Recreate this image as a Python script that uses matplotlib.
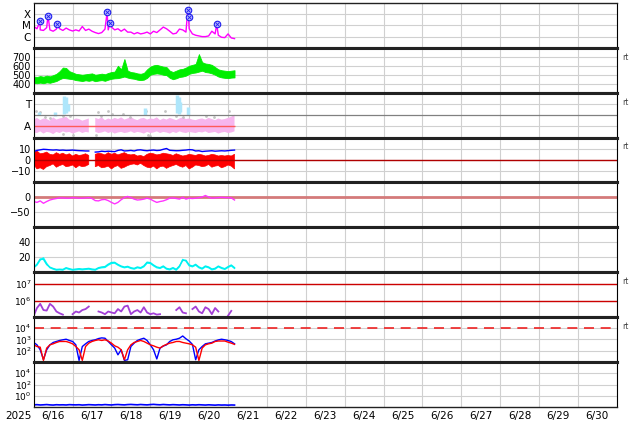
import numpy as np
import matplotlib
matplotlib.use("Agg")
import matplotlib.pyplot as plt
import matplotlib.dates as mdates
from matplotlib.ticker import FuncFormatter, NullLocator

nan = np.nan
T0 = np.datetime64("2025-06-16T00:00")
T_END = np.datetime64("2025-07-01T00:00")

# 2-hourly samples, hours since 6/16 00UT
hours = list(range(0, 125, 2))

# x-ray flux, log10 W/m2 (background) + flare peaks
xray_log = [-5.09, -5.30, -5.40, -5.45, -5.20, -5.40, -5.52, -5.33, -5.30, -5.45,
            -5.24, -5.40, -5.50, -5.40, -5.50, -5.10, -5.45, -5.33, -5.52, -5.64,
            -5.73, -5.64, -5.33, -5.40, -5.15, -5.40, -5.30, -5.52, -5.33, -5.60,
            -5.60, -5.76, -5.64, -5.76, -5.70, -5.60, -5.76, -5.52, -5.64, -5.40,
            -5.15, -5.30, -5.52, -5.76, -5.70, -5.33, -5.40, -5.60, -5.30, -5.76,
            -5.88, -5.94, -6.00, -6.00, -5.94, -5.52, -5.76, -5.88, -6.06, -6.09,
            -5.76, -6.12, -6.18]
flare_h = [3.9, 8.8, 14.5, 45.3, 47.1, 95.1, 95.6, 113.0]
flare_log = [-4.64, -4.12, -4.85, -3.85, -4.75, -3.64, -4.27, -4.91]

# solar wind speed km/s (envelope)
vsw_hi = [480, 475, 485, 478, 490, 482, 495, 510, 540, 580,
          575, 540, 525, 510, 505, 500, 505, 510, 515, 500,
          505, 512, 505, 520, 530, 535, 600, 560, 675, 545,
          530, 525, 515, 510, 520, 560, 590, 605, 610, 600,
          590, 585, 545, 530, 545, 560, 565, 580, 600, 610,
          620, 730, 640, 625, 620, 610, 585, 560, 550, 545,
          540, 545, 550]
vsw_lo = [410, 405, 412, 405, 415, 410, 420, 430, 450, 465,
          460, 455, 450, 440, 435, 430, 438, 432, 440, 428,
          435, 440, 432, 445, 455, 460, 462, 470, 480, 468,
          460, 455, 445, 440, 445, 465, 500, 510, 515, 510,
          500, 495, 465, 450, 460, 475, 480, 490, 510, 520,
          525, 535, 545, 530, 525, 515, 500, 480, 470, 465,
          462, 468, 470]

# IMF sector (A=1, T=3)
sector_lo = [0.45, 0.40, 0.55, 0.35, 0.50, 0.45, 0.30, 0.50, 0.40, 0.55,
             0.45, 0.50, 0.35, 0.45, 0.55, 0.40, 0.50, 0.45, nan, 0.50,
             0.40, 0.45, 0.55, 0.40, 0.50, 0.35, 0.45, 0.50, 0.40, 0.45,
             0.55, 0.40, 0.50, 0.45, 0.35, 0.50, 0.40, 0.45, 0.55, 0.40,
             0.50, 0.45, 0.35, 0.50, 0.40, 0.55, 0.45, 0.40, 0.50, 0.45,
             0.40, 0.50, 0.45, 0.55, 0.40, 0.45, 0.50, 0.35, 0.45, 0.50,
             0.40, 0.45, 0.55]
sector_hi = [1.60, 1.75, 1.55, 1.70, 1.65, 1.50, 1.80, 1.60, 1.70, 1.75,
             1.85, 1.60, 1.55, 1.70, 1.65, 1.50, 1.60, 1.70, nan, 1.75,
             1.65, 1.80, 1.55, 1.70, 1.60, 1.75, 1.65, 1.80, 1.60, 1.70,
             1.85, 1.65, 1.55, 1.70, 1.75, 1.60, 1.70, 1.65, 1.80, 1.55,
             1.70, 1.60, 1.75, 1.65, 1.55, 1.70, 1.80, 1.65, 1.70, 1.60,
             1.55, 1.65, 1.70, 1.60, 1.75, 1.65, 1.55, 1.70, 1.60, 1.65,
             1.75, 1.85, 2.05]
toward_h = [3.5, 13.0, 19.0, 20.0, 21.0, 68.5, 88.5, 89.5, 90.5, 95.0]
toward_lo = [2.0, 1.9, 2.1, 2.2, 2.4, 2.0, 2.2, 2.1, 2.3, 2.0]
toward_hi = [2.3, 2.3, 3.7, 3.6, 3.0, 2.6, 3.8, 3.6, 3.2, 2.7]
gray_h = [1.4, 3.9, 6.9, 10.0, 17.8, 18.2, 22.3, 24.4, 38.7, 39.8, 41.8, 45.9,
          48.6, 55.2, 59.3, 69.1, 70.5, 71.6, 80.8, 88.0, 92.1, 106.4, 111.6, 120.8]
gray_v = [2.4, 2.25, 1.87, 1.75, 1.96, 0.27, 1.96, 0.18, 0.18, 2.25, 1.96, 2.34,
          2.1, 2.1, 1.87, 2.4, 0.18, 0.1, 2.4, 1.96, 1.8, 1.96, 1.8, 2.4]

# IMF Bt / Bz nT
bt = [7.5, 8.5, 9.0, 9.5, 9.3, 9.0, 8.8, 9.0, 8.6, 8.8,
      8.5, 8.6, 8.8, 8.5, 8.3, 8.2, 8.0, 8.0, nan, 7.0,
      7.2, 7.8, 7.5, 7.8, 7.6, 7.4, 8.5, 9.0, 8.0, 8.2,
      8.5, 8.0, 8.8, 9.0, 8.5, 8.2, 8.6, 8.8, 8.4, 8.6,
      9.5, 10.2, 8.6, 8.4, 8.2, 8.3, 8.6, 8.8, 9.2, 9.0,
      8.0, 8.2, 7.5, 7.8, 8.0, 8.2, 7.8, 8.0, 8.2, 8.0,
      8.3, 8.6, 8.8]
bz_hi = [6.5, 8.0, 5.5, 6.0, 7.0, 5.0, 4.5, 6.5, 5.0, 6.0,
         4.5, 5.5, 3.5, 5.0, 4.0, 4.5, 5.5, 4.0, nan, 5.0,
         6.0, 5.5, 4.5, 6.5, 5.0, 6.0, 4.5, 5.5, 6.5, 5.0,
         4.5, 5.0, 3.5, 4.0, 3.0, 5.0, 6.0, 5.5, 4.5, 5.0,
         6.0, 5.5, 5.0, 4.0, 5.5, 4.5, 3.5, 4.0, 5.0, 4.5,
         4.0, 5.0, 4.5, 3.5, 4.0, 5.0, 4.5, 3.5, 4.0, 3.5,
         4.0, 3.5, 5.0]
bz_lo = [-4.0, -8.0, -7.0, -8.5, -6.0, -5.0, -3.5, -6.5, -5.0, -4.0,
         -6.0, -5.5, -4.5, -7.0, -5.0, -6.0, -5.5, -4.0, nan, -6.0,
         -5.0, -7.0, -6.5, -5.5, -8.0, -6.0, -5.0, -7.5, -6.5, -5.0,
         -4.0, -3.5, -4.5, -3.0, -5.0, -6.5, -7.0, -5.5, -8.0, -6.0,
         -5.5, -7.5, -6.0, -5.0, -4.0, -5.5, -6.5, -5.0, -8.0, -6.5,
         -4.5, -5.0, -6.0, -5.5, -4.0, -6.5, -5.5, -5.0, -7.0, -6.0,
         -4.5, -5.5, -8.0]

# Dst nT
dst = [-14, -17, -12, -20, -14, -9, -6, -4, -2, -2,
       -3, -3, -1, -2, -3, -3, -2, -1, -4, -11,
       -12, -8, -7, -11, -17, -22, -17, -8, -1, 3,
       -1, -6, -9, -8, -6, -3, -6, -12, -17, -14,
       -12, -8, -3, -2, -4, -6, 0, -6, -3, -4,
       -3, -1, 1, 6, 1, -3, -2, -1, 0, -1,
       -1, -2, -9]

# density /cc, two sources
dens_a = [5.8, 9.3, 16.0, 19.0, 11.6, 5.8, 4.0, 2.7, 3.1, 2.7,
          4.9, 3.6, 2.7, 3.1, 3.6, 3.1, 3.6, 4.0, 3.1, 2.7,
          4.9, 5.8, 6.2, 9.3, 11.6, 12.0, 9.3, 7.1, 5.8, 6.7,
          4.9, 4.0, 5.8, 4.9, 7.1, 12.0, 11.6, 8.4, 5.8, 4.9,
          7.1, 4.0, 3.1, 4.9, 2.7, 7.1, 16.9, 14.7, 8.4, 7.1,
          9.3, 5.8, 4.0, 7.1, 5.8, 3.1, 4.0, 7.1, 4.9, 3.6,
          6.2, 8.4, 4.9]
dens_b = [6.5, 10.5, 17.5, 17.0, 10.0, 6.5, 4.8, 3.5, 3.8, 3.5,
          5.8, 4.5, 3.4, 4.0, 4.5, 4.0, 4.4, 4.9, 4.0, 3.5,
          5.8, 6.8, 7.3, 10.5, 12.8, 13.0, 10.2, 8.0, 6.7, 7.6,
          5.8, 4.9, 6.8, 5.8, 8.2, 13.2, 12.6, 9.4, 6.8, 5.8,
          8.1, 4.9, 4.0, 5.9, 3.6, 8.2, 15.5, 15.8, 9.5, 8.0,
          10.3, 6.8, 5.0, 8.1, 6.8, 4.0, 5.0, 8.0, 5.9, 4.5,
          7.2, 9.4, 5.9]

# electron fluence
e_flux = [1.3e5, 3.7e5, 6.5e5, 2.8e5, 2.6e5, 6.5e5, 4.5e5, 2.3e5, 1.8e5, 1.5e5,
          nan, nan, 1.6e5, 2.3e5, 2.0e5, 2.8e5, 3.2e5, 4.5e5, nan, nan,
          2.3e5, 2.0e5, 1.6e5, 2.3e5, 2.0e5, 1.8e5, 3.2e5, 2.3e5, 4.5e5, 5.1e5,
          1.6e5, 2.3e5, 2.8e5, 2.0e5, 4.1e5, 2.0e5, 1.6e5, 1.8e5, 1.5e5, 1.6e5,
          nan, nan, nan, nan, 2.8e5, 4.1e5, 2.0e5, 1.8e5, nan, 3.2e5,
          4.5e5, 2.3e5, 1.8e5, 4.1e5, 3.2e5, 1.6e5, 3.7e5, 2.3e5, nan, nan,
          1.3e5, 2.5e5, nan]

# electron flux, two satellites (log10)
e2_blue_log = [2.72, 2.51, 2.07, 1.20, 2.07, 2.51, 2.72, 2.81, 2.90, 2.96,
               3.01, 2.90, 2.81, 2.51, 1.12, 2.36, 2.60, 2.81, 2.90, 2.96,
               3.07, 3.13, 3.10, 2.81, 2.51, 2.22, 1.62, 2.07, 1.12, 1.18,
               2.36, 2.66, 2.90, 3.01, 3.10, 2.90, 2.51, 2.07, 1.25, 2.22,
               2.40, 2.51, 2.81, 2.96, 3.01, 3.10, 3.30, 3.05, 2.85, 2.55,
               1.18, 2.07, 2.36, 2.60, 2.66, 2.72, 2.85, 2.95, 3.01, 2.96,
               2.90, 2.80, 2.60]
e2_red_log = [2.51, 2.36, 2.30, 1.12, 2.22, 2.51, 2.60, 2.72, 2.81, 2.81,
              2.81, 2.72, 2.60, 2.36, 2.07, 1.12, 2.36, 2.66, 2.81, 2.90,
              2.96, 2.90, 2.96, 2.85, 2.66, 2.42, 2.30, 2.07, 1.18, 2.07,
              2.51, 2.72, 2.81, 2.90, 2.81, 2.66, 2.51, 2.42, 2.30, 2.22,
              2.42, 2.55, 2.66, 2.72, 2.81, 2.81, 2.72, 2.66, 2.60, 2.51,
              2.30, 1.12, 2.22, 2.51, 2.60, 2.66, 2.81, 2.85, 2.85, 2.85,
              2.75, 2.66, 2.55]

# proton flux
p_flux = [0.030, 0.033, 0.029, 0.031, 0.034, 0.030, 0.028, 0.032, 0.030, 0.031,
          0.029, 0.033, 0.031, 0.030, 0.032, 0.028, 0.030, 0.033, 0.031, 0.029,
          0.032, 0.030, 0.034, 0.031, 0.029, 0.033, 0.035, 0.032, 0.030, 0.034,
          0.036, 0.033, 0.031, 0.035, 0.032, 0.030, 0.034, 0.037, 0.033, 0.031,
          0.035, 0.032, 0.030, 0.033, 0.031, 0.029, 0.032, 0.030, 0.028, 0.031,
          0.029, 0.032, 0.030, 0.028, 0.031, 0.029, 0.027, 0.030, 0.028, 0.029,
          0.027, 0.029, 0.028]

rt_panels = [1, 2, 3, 6, 7]


def to_time(h):
    mins = np.round(np.asarray(h, dtype=float) * 60).astype(int)
    return T0 + mins * np.timedelta64(1, "m")


def day_label(v, pos):
    d = mdates.num2date(v)
    return f"{d.month}/{d.day:02d}"


def log_axis(ax, lims, ticks):
    ax.set_yscale("log")
    ax.set_ylim(*lims)
    ax.set_yticks(ticks)
    ax.yaxis.set_minor_locator(NullLocator())
    ax.tick_params(axis="y", labelsize=6.5, pad=1.5)


t = to_time(hours)
t_end = t[-1]

fig = plt.figure(figsize=(6.34, 4.24), dpi=100)
axes = fig.subplots(9, 1, sharex=True, gridspec_kw=dict(hspace=0))
fig.subplots_adjust(left=0.0532, right=0.9727, top=0.993, bottom=0.041)

for i, ax in enumerate(axes):
    ax.set_xlim(T0, T_END)
    ax.set_axisbelow(True)
    ax.xaxis.set_major_locator(mdates.DayLocator())
    ax.xaxis.set_minor_locator(mdates.HourLocator(byhour=12))
    ax.grid(True, which="major", color="#d0d0d0", lw=0.8)
    ax.tick_params(axis="both", which="both", length=0, labelsize=7, pad=2)
    ax.tick_params(axis="x", which="both", labelbottom=False)
    for s in ("top", "bottom"):
        ax.spines[s].set_linewidth(2.2)
        ax.spines[s].set_color("#222222")
    for s in ("left", "right"):
        ax.spines[s].set_linewidth(0.8)
    if i in rt_panels:
        ax.text(1.009, 0.79, "rt", transform=ax.transAxes, fontsize=5.5,
                color="#444444", va="center", ha="left")

axes[0].spines["top"].set_linewidth(1.0)
axes[-1].spines["bottom"].set_linewidth(1.0)

# 1: x-ray
ax = axes[0]
x_t = np.concatenate([t, to_time(flare_h)])
x_v = np.concatenate([10.0 ** np.array(xray_log), 10.0 ** np.array(flare_log)])
order = np.argsort(x_t)
ax.plot(x_t[order], x_v[order], color="#ff00ff", lw=1)
ax.scatter(to_time(flare_h), 10.0 ** np.array(flare_log), s=22, fc="#b4b4ff",
           ec="#2020ee", lw=0.8, zorder=5)
ax.scatter(to_time(flare_h), 10.0 ** np.array(flare_log), s=7, marker="x",
           color="#2020ee", lw=0.6, zorder=6)
ax.set_yscale("log")
ax.set_ylim(1e-7, 1e-3)
ax.set_yticks([1e-6, 1e-5, 1e-4], ["C", "M", "X"], fontsize=7.5)
ax.yaxis.set_minor_locator(NullLocator())

# 2: solar wind speed
ax = axes[1]
ax.fill_between(t, vsw_lo, vsw_hi, color="#00ee00", lw=0.6)
ax.set_ylim(300, 800)
ax.set_yticks([400, 500, 600, 700])

# 3: sector
ax = axes[2]
ax.fill_between(t, sector_lo, sector_hi, color="#f7b6ee", lw=0)
ax.vlines(to_time(toward_h), toward_lo, toward_hi, color="#aee6fb", lw=2.5)
ax.scatter(to_time(gray_h), gray_v, s=4, color="#c4c4c4", lw=0)
ax.hlines(1, t[0], t_end, color="#ff5a5a", lw=1)
ax.axhline(2, color="#808080", lw=0.9)
ax.set_ylim(0, 4)
ax.set_yticks([1, 3], ["A", "T"], fontsize=7.5)

# 4: IMF
ax = axes[3]
ax.fill_between(t, bz_lo, bz_hi, color="#ff0000", lw=0.5)
ax.plot(t, bt, color="#0000ff", lw=1)
ax.axhline(0, color="#b00000", lw=1)
ax.set_ylim(-20, 20)
ax.set_yticks([-10, 0, 10])

# 5: Dst
ax = axes[4]
ax.axhline(0, color="#d47a7a", lw=2)
ax.plot(t, dst, color="#ff33ff", lw=1)
ax.set_ylim(-100, 50)
ax.set_yticks([-50, 0])

# 6: density
ax = axes[5]
ax.plot(t, dens_a, color="#00ffff", lw=1)
ax.plot(t, dens_b, color="#00eeee", lw=1)
ax.set_ylim(0, 60)
ax.set_yticks([20, 40])

# 7: electron fluence
ax = axes[6]
ax.axhline(1e6, color="#cc0000", lw=1)
ax.axhline(1e7, color="#cc0000", lw=1)
ax.plot(t, e_flux, color="#a23fd6", lw=1.3)
log_axis(ax, (1.1e5, 4.9e7), [1e6, 1e7])

# 8: electron flux
ax = axes[7]
ax.axhline(1e4, color="#ee2222", lw=1.2, ls=(0, (6, 4)))
ax.plot(t, 10.0 ** np.array(e2_blue_log), color="#0000ff", lw=1)
ax.plot(t, 10.0 ** np.array(e2_red_log), color="#ff0000", lw=1)
log_axis(ax, (1e1, 1e5), [1e2, 1e3, 1e4])

# 9: proton flux
ax = axes[8]
ax.plot(t, p_flux, color="#0000ff", lw=1.2)
log_axis(ax, (1.5e-2, 1e6), [1e0, 1e2, 1e4])
ax.xaxis.set_minor_formatter(FuncFormatter(day_label))
ax.tick_params(axis="x", which="minor", labelbottom=True, labelsize=7.5, pad=3)

fig.text(18 / 634, 1 - 416 / 424, "2025", ha="center", va="center", fontsize=7.5)

fig.savefig("out.png", dpi=100, facecolor="white")
